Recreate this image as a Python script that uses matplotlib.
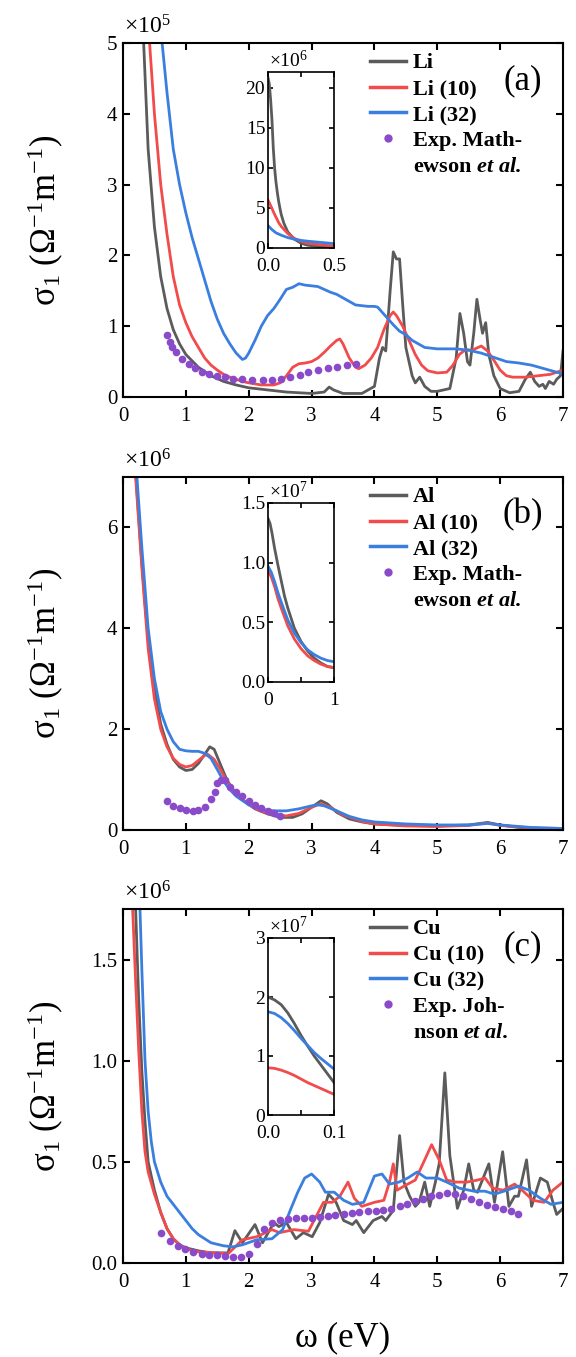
import numpy as np
import matplotlib.pyplot as plt
from matplotlib.lines import Line2D

plt.rcParams['font.family'] = ['Liberation Serif', 'DejaVu Serif']
plt.rcParams['mathtext.fontset'] = 'custom'
plt.rcParams['mathtext.rm'] = 'Liberation Serif'
plt.rcParams['mathtext.it'] = 'Liberation Serif:italic'
plt.rcParams['mathtext.bf'] = 'Liberation Serif:bold'
plt.rcParams['mathtext.bfit'] = 'Liberation Serif:bold:italic'

GRAY = '#5b5b5b'
RED = '#f24b4b'
BLUE = '#3a7fe0'
PURPLE = '#8a4bcb'

# -----------------------------
# (a) Li, sigma in 1e5 (main), 1e6 (inset)
# -----------------------------
li_w = [0.30, 0.4, 0.5, 0.6, 0.7, 0.8, 0.9, 1.0, 1.2, 1.4, 1.6, 1.8, 2.0, 2.3, 2.6, 3.0, 3.2, 3.28,
        3.35, 3.5, 3.8, 4.0, 4.08, 4.13, 4.18, 4.25, 4.3, 4.35, 4.4, 4.45, 4.5, 4.6, 4.65, 4.72,
        4.8, 4.9, 5.0, 5.2, 5.3, 5.36, 5.42, 5.48, 5.52, 5.58, 5.63, 5.68, 5.72, 5.77, 5.82, 5.9,
        6.0, 6.15, 6.3, 6.4, 6.48, 6.55, 6.62, 6.68, 6.72, 6.78, 6.85, 6.9, 6.96, 7.0]
li_s = [5.6, 3.5, 2.4, 1.7, 1.25, 0.95, 0.75, 0.6, 0.42, 0.3, 0.22, 0.17, 0.13, 0.1, 0.07, 0.05, 0.07, 0.14,
        0.1, 0.05, 0.05, 0.15, 0.55, 0.7, 0.65, 1.5, 2.05, 1.95, 1.95, 1.3, 0.7, 0.3, 0.2, 0.28,
        0.15, 0.08, 0.08, 0.12, 0.55, 1.18, 0.9, 0.5, 0.45, 0.9, 1.38, 1.1, 0.9, 1.05, 0.6, 0.3,
        0.12, 0.06, 0.08, 0.25, 0.35, 0.22, 0.15, 0.18, 0.12, 0.22, 0.18, 0.25, 0.3, 0.65]
li10_w = [0.40, 0.5, 0.6, 0.7, 0.8, 0.9, 1.0, 1.1, 1.2, 1.3, 1.4, 1.5, 1.6, 1.7, 1.8, 1.9, 2.0, 2.2, 2.4,
          2.5, 2.6, 2.7, 2.8, 2.9, 3.0, 3.1, 3.2, 3.3, 3.4, 3.45, 3.5, 3.6, 3.7, 3.75, 3.85, 3.95, 4.05,
          4.15, 4.25, 4.3, 4.35, 4.45, 4.55, 4.65, 4.75, 4.85, 5.0, 5.15, 5.25, 5.35, 5.45, 5.55, 5.65,
          5.7, 5.8, 5.9, 6.0, 6.1, 6.2, 6.4, 6.6, 6.8, 7.0]
li10_s = [5.3, 4.0, 3.0, 2.3, 1.7, 1.3, 1.05, 0.85, 0.7, 0.55, 0.45, 0.38, 0.32, 0.28, 0.25, 0.22, 0.2, 0.17, 0.17,
          0.2, 0.3, 0.42, 0.47, 0.48, 0.5, 0.55, 0.63, 0.72, 0.8, 0.82, 0.75, 0.55, 0.42, 0.4, 0.45, 0.55, 0.7,
          0.95, 1.15, 1.2, 1.15, 1.0, 0.8, 0.6, 0.45, 0.37, 0.34, 0.35, 0.45, 0.6, 0.67, 0.66, 0.7,
          0.72, 0.65, 0.52, 0.38, 0.3, 0.28, 0.28, 0.3, 0.32, 0.38]
li32_w = [0.60, 0.7, 0.8, 0.9, 1.0, 1.1, 1.2, 1.3, 1.4, 1.5, 1.6, 1.7, 1.8, 1.9, 1.95, 2.0, 2.1, 2.2, 2.3,
          2.4, 2.5, 2.6, 2.7, 2.8, 2.9, 3.0, 3.1, 3.2, 3.3, 3.4, 3.5, 3.6, 3.7, 3.8, 3.9, 4.0, 4.05, 4.1,
          4.2, 4.3, 4.4, 4.5, 4.6, 4.7, 4.8, 5.0, 5.3, 5.5, 5.7, 5.9, 6.1, 6.3, 6.5, 6.7, 6.9, 7.0]
li32_s = [5.2, 4.3, 3.5, 3.0, 2.6, 2.25, 1.95, 1.65, 1.35, 1.1, 0.9, 0.75, 0.62, 0.53, 0.55, 0.62, 0.8, 1.0, 1.15,
          1.25, 1.38, 1.52, 1.55, 1.6, 1.58, 1.57, 1.56, 1.52, 1.48, 1.45, 1.4, 1.35, 1.3, 1.29, 1.28, 1.28, 1.27, 1.22,
          1.12, 1.02, 0.93, 0.88, 0.8, 0.75, 0.7, 0.68, 0.68, 0.66, 0.62, 0.56, 0.5, 0.48, 0.45, 0.4, 0.35, 0.33]
li_exp_w = [0.70, 0.74, 0.78, 0.84, 0.94, 1.05, 1.14, 1.26, 1.37, 1.49, 1.62, 1.75, 1.9, 2.06, 2.22,
            2.37, 2.51, 2.66, 2.81, 2.95, 3.1, 3.26, 3.41, 3.57, 3.71]
li_exp_s = [0.88, 0.78, 0.70, 0.63, 0.54, 0.46, 0.41, 0.36, 0.33, 0.30, 0.28, 0.26, 0.25, 0.24, 0.235,
            0.24, 0.26, 0.28, 0.31, 0.35, 0.38, 0.41, 0.43, 0.45, 0.47]

li_in_w = [0, 0.01, 0.02, 0.03, 0.04, 0.05, 0.06, 0.07, 0.08, 0.09, 0.1, 0.12, 0.15, 0.2, 0.25, 0.3, 0.4, 0.5]
li_in_s = [21.3, 20.5, 18.5, 16, 12.5, 10, 8.3, 7, 5.9, 5, 4.2, 3.1, 2.0, 1.1, 0.6, 0.35, 0.15, 0.1]
li10_in_w = [0, 0.02, 0.05, 0.08, 0.1, 0.15, 0.2, 0.25, 0.3, 0.4, 0.5]
li10_in_s = [6.0, 5.3, 4.2, 3.2, 2.7, 1.8, 1.2, 0.85, 0.6, 0.4, 0.25]
li32_in_w = [0, 0.03, 0.06, 0.1, 0.15, 0.2, 0.25, 0.3, 0.4, 0.5]
li32_in_s = [2.8, 2.3, 1.9, 1.6, 1.3, 1.1, 0.95, 0.85, 0.7, 0.55]

# -----------------------------
# (b) Al, sigma in 1e6 (main), 1e7 (inset)
# -----------------------------
al_w = [0.19, 0.25, 0.3, 0.35, 0.4, 0.5, 0.6, 0.7, 0.8, 0.9, 1.0, 1.1, 1.2, 1.3, 1.38, 1.45, 1.55, 1.65,
        1.75, 1.9, 2.1, 2.3, 2.5, 2.7, 2.85, 3.0, 3.15, 3.25, 3.4, 3.6, 3.8, 4.0, 4.5, 5.0, 5.5, 5.8,
        6.0, 6.3, 6.7, 7.0]
al_s = [7.3, 6.2, 5.3, 4.5, 3.8, 2.8, 2.1, 1.7, 1.4, 1.25, 1.18, 1.2, 1.32, 1.5, 1.65, 1.6, 1.3, 1.0,
        0.8, 0.6, 0.42, 0.32, 0.25, 0.25, 0.32, 0.45, 0.58, 0.52, 0.35, 0.22, 0.16, 0.12, 0.09, 0.08, 0.1, 0.15,
        0.1, 0.05, 0.03, 0.03]
al10_w = [0.19, 0.3, 0.4, 0.5, 0.6, 0.7, 0.8, 0.9, 1.0, 1.1, 1.2, 1.3, 1.35, 1.45, 1.55, 1.65, 1.8, 2.0,
          2.2, 2.4, 2.6, 2.8, 3.0, 3.15, 3.3, 3.5, 3.8, 4.0, 4.5, 5.0, 5.5, 5.8, 6.0, 6.5, 7.0]
al10_s = [7.2, 5.2, 3.6, 2.6, 2.0, 1.65, 1.42, 1.3, 1.25, 1.28, 1.38, 1.48, 1.5, 1.4, 1.2, 0.97, 0.72, 0.5,
          0.37, 0.3, 0.28, 0.33, 0.45, 0.52, 0.45, 0.3, 0.17, 0.12, 0.08, 0.07, 0.09, 0.14, 0.09, 0.04, 0.03]
al32_w = [0.21, 0.3, 0.4, 0.5, 0.6, 0.7, 0.8, 0.9, 1.0, 1.1, 1.2, 1.3, 1.4, 1.5, 1.6, 1.7, 1.8, 2.0,
          2.2, 2.4, 2.6, 2.8, 3.0, 3.1, 3.2, 3.4, 3.6, 3.8, 4.0, 4.5, 5.0, 5.5, 5.8, 6.0, 6.5, 7.0]
al32_s = [7.2, 5.6, 4.0, 3.0, 2.35, 2.0, 1.75, 1.6, 1.57, 1.56, 1.56, 1.52, 1.42, 1.2, 0.97, 0.8, 0.67, 0.5,
          0.41, 0.38, 0.38, 0.42, 0.48, 0.5, 0.48, 0.38, 0.27, 0.2, 0.16, 0.12, 0.1, 0.1, 0.13, 0.1, 0.05, 0.03]
al_exp_w = [0.70, 0.80, 0.91, 1.01, 1.11, 1.20, 1.30, 1.40, 1.46, 1.50, 1.56, 1.62, 1.70, 1.80, 1.90,
            2.00, 2.10, 2.20, 2.30, 2.40, 2.50]
al_exp_s = [0.58, 0.48, 0.43, 0.40, 0.38, 0.40, 0.46, 0.61, 0.76, 0.93, 1.00, 0.99, 0.86, 0.76, 0.67,
            0.58, 0.50, 0.43, 0.38, 0.33, 0.28]

al_in_w = [0, 0.03, 0.06, 0.1, 0.15, 0.2, 0.25, 0.3, 0.4, 0.5, 0.6, 0.7, 0.8, 0.9, 1.0]
al_in_s = [1.37, 1.33, 1.25, 1.12, 0.98, 0.85, 0.72, 0.62, 0.45, 0.34, 0.26, 0.2, 0.16, 0.13, 0.12]
al10_in_w = [0, 0.05, 0.1, 0.15, 0.2, 0.3, 0.4, 0.5, 0.6, 0.7, 0.8, 0.9, 1.0]
al10_in_s = [0.93, 0.88, 0.8, 0.7, 0.62, 0.47, 0.36, 0.28, 0.22, 0.18, 0.15, 0.13, 0.12]
al32_in_w = [0, 0.05, 0.1, 0.15, 0.2, 0.3, 0.4, 0.5, 0.6, 0.7, 0.8, 0.9, 1.0]
al32_in_s = [0.97, 0.92, 0.84, 0.75, 0.67, 0.52, 0.41, 0.33, 0.27, 0.23, 0.2, 0.18, 0.17]

# -----------------------------
# (c) Cu, sigma in 1e6 (main), 1e7 (inset)
# -----------------------------
cu_w = [0.19, 0.25, 0.3, 0.35, 0.4, 0.5, 0.6, 0.7, 0.8, 0.9, 1.0, 1.2, 1.4, 1.6, 1.67, 1.78, 1.9, 2.1,
        2.22, 2.4, 2.48, 2.6, 2.75, 2.87, 3.01, 3.13, 3.27, 3.39, 3.51, 3.65, 3.71, 3.83, 3.98, 4.12,
        4.18, 4.3, 4.4, 4.47, 4.56, 4.65, 4.71, 4.8, 4.88, 4.97, 5.03, 5.12, 5.2, 5.32, 5.42, 5.5,
        5.58, 5.64, 5.82, 5.91, 6.04, 6.14, 6.23, 6.29, 6.42, 6.5, 6.64, 6.75, 6.84, 6.9, 7.0]
cu_s = [1.85, 1.3, 0.95, 0.7, 0.5, 0.36, 0.25, 0.17, 0.12, 0.09, 0.075, 0.06, 0.05, 0.05, 0.05, 0.16, 0.1, 0.19,
        0.1, 0.2, 0.18, 0.2, 0.12, 0.15, 0.13, 0.2, 0.34, 0.3, 0.21, 0.19, 0.21, 0.15, 0.21, 0.23,
        0.21, 0.26, 0.63, 0.4, 0.33, 0.28, 0.3, 0.4, 0.28, 0.4, 0.49, 0.94, 0.53, 0.27, 0.36, 0.49,
        0.36, 0.35, 0.49, 0.3, 0.55, 0.28, 0.33, 0.33, 0.51, 0.28, 0.42, 0.4, 0.3, 0.24, 0.27]
cu10_w = [0.14, 0.2, 0.25, 0.3, 0.35, 0.4, 0.5, 0.6, 0.7, 0.8, 0.9, 1.0, 1.2, 1.5, 1.67, 1.9, 2.13, 2.37,
          2.49, 2.72, 2.95, 3.19, 3.33, 3.45, 3.58, 3.68, 3.8, 4.0, 4.15, 4.24, 4.3, 4.36, 4.47, 4.65,
          4.8, 4.91, 5.03, 5.15, 5.29, 5.47, 5.64, 5.76, 5.88, 6.05, 6.23, 6.35, 6.52, 6.7, 6.84, 7.0]
cu10_s = [1.85, 1.4, 1.05, 0.75, 0.55, 0.45, 0.34, 0.25, 0.17, 0.12, 0.09, 0.07, 0.055, 0.05, 0.045, 0.115, 0.13, 0.165,
          0.15, 0.165, 0.157, 0.3, 0.3, 0.33, 0.4, 0.32, 0.28, 0.3, 0.31, 0.4, 0.49, 0.36, 0.38, 0.41,
          0.51, 0.585, 0.51, 0.41, 0.4, 0.4, 0.41, 0.42, 0.37, 0.36, 0.39, 0.36, 0.31, 0.3, 0.36, 0.4]
cu32_w = [0.26, 0.3, 0.35, 0.4, 0.45, 0.5, 0.6, 0.7, 0.8, 0.9, 1.0, 1.1, 1.2, 1.3, 1.4, 1.6, 1.75, 1.9,
          2.13, 2.37, 2.54, 2.66, 2.78, 2.89, 3.0, 3.13, 3.22, 3.36, 3.51, 3.65, 3.83, 4.0, 4.12, 4.24,
          4.39, 4.53, 4.68, 4.82, 5.0, 5.15, 5.35, 5.58, 5.76, 5.91, 6.11, 6.29, 6.46, 6.64, 6.81, 7.0]
cu32_s = [1.85, 1.45, 1.0, 0.75, 0.6, 0.5, 0.4, 0.33, 0.29, 0.25, 0.21, 0.17, 0.14, 0.12, 0.1, 0.085, 0.08, 0.09,
          0.115, 0.12, 0.165, 0.26, 0.35, 0.42, 0.44, 0.4, 0.35, 0.35, 0.31, 0.29, 0.3, 0.43, 0.44, 0.39,
          0.4, 0.42, 0.45, 0.42, 0.42, 0.4, 0.37, 0.355, 0.355, 0.34, 0.36, 0.38, 0.36, 0.32, 0.29, 0.3]
cu_exp_w = [0.61, 0.74, 0.87, 0.99, 1.12, 1.25, 1.37, 1.5, 1.63, 1.75, 1.88, 2.01, 2.13, 2.24, 2.37,
            2.5, 2.62, 2.75, 2.88, 3.0, 3.13, 3.26, 3.38, 3.51, 3.64, 3.76, 3.89, 4.02, 4.14, 4.27,
            4.4, 4.52, 4.65, 4.78, 4.9, 5.03, 5.16, 5.28, 5.41, 5.54, 5.66, 5.79, 5.92, 6.04, 6.17, 6.29]
cu_exp_s = [0.15, 0.107, 0.086, 0.07, 0.053, 0.046, 0.041, 0.041, 0.036, 0.03, 0.03, 0.046, 0.096, 0.168, 0.2,
            0.214, 0.218, 0.22, 0.22, 0.224, 0.227, 0.234, 0.237, 0.244, 0.247, 0.25, 0.255, 0.257, 0.26, 0.267,
            0.28, 0.293, 0.305, 0.318, 0.33, 0.338, 0.346, 0.343, 0.333, 0.316, 0.3, 0.288, 0.277, 0.267, 0.255, 0.244]

cu_in_w = [0, 0.01, 0.02, 0.03, 0.04, 0.05, 0.06, 0.07, 0.08, 0.09, 0.1]
cu_in_s = [2.0, 1.95, 1.87, 1.73, 1.55, 1.35, 1.17, 1.0, 0.85, 0.7, 0.55]
cu10_in_s = [0.8, 0.79, 0.76, 0.72, 0.67, 0.61, 0.55, 0.5, 0.45, 0.4, 0.35]
cu32_in_s = [1.75, 1.72, 1.65, 1.55, 1.43, 1.3, 1.18, 1.06, 0.96, 0.87, 0.78]

# -----------------------------
# figure layout (pixels of a 576x1357 canvas)
# -----------------------------
W, H = 576, 1357
fig = plt.figure(figsize=(W / 100, H / 100), dpi=100)


def rect(x0, x1, ytop, ybot):
    return [x0 / W, 1 - ybot / H, (x1 - x0) / W, (ybot - ytop) / H]


def panel(main_box, inset_box, curves, exp, names, exp_lines, tag, ylim, yticks, ylabels,
          expo, inset_curves, ixlim, ixticks, ixlabels, iylim, iyticks, iylabels, iexpo):
    ax = fig.add_axes(main_box)
    for (w, s), c in zip(curves, [GRAY, RED, BLUE]):
        ax.plot(w, s, color=c, lw=2.0)
    ax.plot(exp[0], exp[1], 'o', color=PURPLE, ms=5.5, mec='none')
    ax.set_xlim(0, 7)
    ax.set_ylim(*ylim)
    ax.set_xticks(range(8))
    ax.set_yticks(yticks)
    ax.set_yticklabels(ylabels)
    ax.tick_params(direction='in', top=True, right=True, length=5, width=1.5, labelsize=15)
    ax.tick_params(axis='x', pad=7)
    ax.tick_params(axis='y', pad=4)
    for sp in ax.spines.values():
        sp.set_linewidth(1.5)
    ax.annotate(expo, xy=(0, 1), xycoords='axes fraction', xytext=(1, 3),
                textcoords='offset points', ha='left', va='bottom', fontsize=17)
    ax.text(0.909, 0.893, tag, transform=ax.transAxes, ha='center', va='center', fontsize=25)

    handles = [Line2D([], [], color=c, lw=2.5) for c in [GRAY, RED, BLUE]]
    handles.append(Line2D([], [], ls='none', marker='o', ms=6, color=PURPLE, mec='none'))
    handles.append(Line2D([], [], ls='none'))
    ax.legend(handles, names + exp_lines, loc='upper left', bbox_to_anchor=(0.562, 0.972),
              frameon=False, prop={'weight': 'bold', 'size': 16}, handlelength=1.6,
              handletextpad=0.3, labelspacing=0.24, borderpad=0, borderaxespad=0)

    ins = fig.add_axes(inset_box)
    for (w, s), c in zip(inset_curves, [GRAY, RED, BLUE]):
        ins.plot(w, s, color=c, lw=2.0)
    ins.set_xlim(*ixlim)
    ins.set_ylim(*iylim)
    ins.set_xticks(ixticks)
    ins.set_xticklabels(ixlabels)
    ins.set_yticks(iyticks)
    ins.set_yticklabels(iylabels)
    ins.tick_params(direction='in', top=True, right=True, length=3.5, width=1.2, labelsize=14)
    ins.tick_params(axis='x', pad=7)
    ins.tick_params(axis='y', pad=2)
    for sp in ins.spines.values():
        sp.set_linewidth(1.2)
    ins.annotate(iexpo, xy=(0, 1), xycoords='axes fraction', xytext=(1, 1),
                 textcoords='offset points', ha='left', va='bottom', fontsize=14)
    return ax


ylab = 'σ$_1$ (Ω$^{-1}$m$^{-1}$)'

panel(rect(123, 563, 43, 397), rect(268, 334, 72, 248),
      [(li_w, li_s), (li10_w, li10_s), (li32_w, li32_s)], (li_exp_w, li_exp_s),
      ['Li', 'Li (10)', 'Li (32)'], ['Exp. Math-', 'ewson $\\mathbfit{et}$ $\\mathbfit{al.}$'], '(a)',
      (0, 5), [0, 1, 2, 3, 4, 5], ['0', '1', '2', '3', '4', '5'], '×10$^5$',
      [(li_in_w, li_in_s), (li10_in_w, li10_in_s), (li32_in_w, li32_in_s)],
      (0, 0.5), [0, 0.25, 0.5], ['0.0', '', '0.5'], (0, 22), [0, 5, 10, 15, 20],
      ['0', '5', '10', '15', '20'], '×10$^6$')

panel(rect(123, 563, 477, 830), rect(268, 334, 503, 682),
      [(al_w, al_s), (al10_w, al10_s), (al32_w, al32_s)], (al_exp_w, al_exp_s),
      ['Al', 'Al (10)', 'Al (32)'], ['Exp. Math-', 'ewson $\\mathbfit{et}$ $\\mathbfit{al.}$'], '(b)',
      (0, 7), [0, 2, 4, 6], ['0', '2', '4', '6'], '×10$^6$',
      [(al_in_w, al_in_s), (al10_in_w, al10_in_s), (al32_in_w, al32_in_s)],
      (0, 1), [0, 0.5, 1], ['0', '', '1'], (0, 1.5), [0, 0.5, 1.0, 1.5],
      ['0.0', '0.5', '1.0', '1.5'], '×10$^7$')

panel(rect(123, 563, 909, 1263), rect(268, 334, 938, 1115),
      [(cu_w, cu_s), (cu10_w, cu10_s), (cu32_w, cu32_s)], (cu_exp_w, cu_exp_s),
      ['Cu', 'Cu (10)', 'Cu (32)'], ['Exp. Joh-', 'nson $\\mathbfit{et}$ $\\mathbfit{al.}$'], '(c)',
      (0, 1.75), [0, 0.5, 1.0, 1.5], ['0.0', '0.5', '1.0', '1.5'], '×10$^6$',
      [(cu_in_w, cu_in_s), (cu_in_w, cu10_in_s), (cu_in_w, cu32_in_s)],
      (0, 0.1), [0, 0.05, 0.1], ['0.0', '', '0.1'], (0, 3), [0, 1, 2, 3],
      ['0', '1', '2', '3'], '×10$^7$')

for yc in [220, 653, 1086]:
    fig.text(46 / W, 1 - yc / H, ylab, rotation=90, ha='center', va='center', fontsize=25)
fig.text(343 / W, 1 - 1338 / H, 'ω (eV)', ha='center', va='center', fontsize=25)

fig.savefig('out.png', dpi=100)
